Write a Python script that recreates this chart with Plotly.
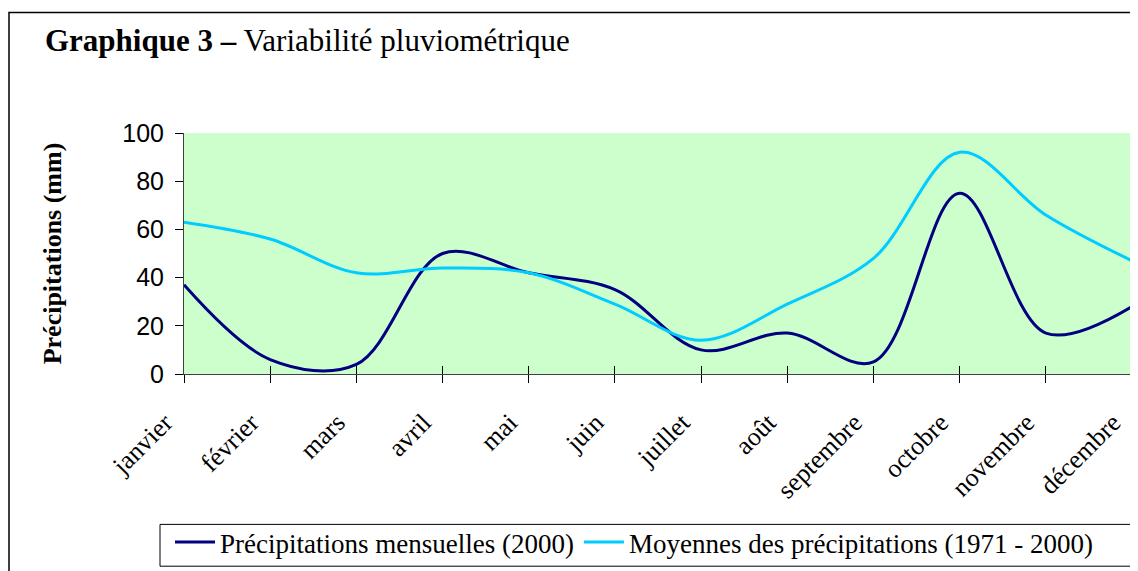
import plotly.graph_objects as go

mois = ["janvier", "février", "mars", "avril", "mai", "juin", "juillet",
        "août", "septembre", "octobre", "novembre", "décembre"]
precip_2000 = [37, 6, 4, 50, 42, 35, 10, 17, 5, 75, 17, 28]
moyennes_1971_2000 = [63, 56, 42, 44, 42, 29, 14, 29, 48, 92, 66, 47]

serif = "Liberation Serif, Times New Roman, serif"
sans = "Liberation Sans, Arial, sans-serif"

# page offset (browser body margin) is 8px; plot area on page: x 184-1132, y 133-375
def px(xp):
    return (xp - 184) / 948

def py(yp):
    return (375 - yp) / 242

fig = go.Figure()
fig.add_trace(go.Scatter(
    x=mois, y=precip_2000, mode="lines",
    name="Précipitations mensuelles (2000)",
    line=dict(color="#000080", width=3, shape="spline", smoothing=1.0),
))
fig.add_trace(go.Scatter(
    x=mois, y=moyennes_1971_2000, mode="lines",
    name="Moyennes des précipitations (1971 - 2000)",
    line=dict(color="#00CCFF", width=3, shape="spline", smoothing=1.0),
))
# invisible trace on an overlaying axis to draw inner tick marks
fig.add_trace(go.Scatter(x=mois, y=precip_2000, mode="lines", xaxis="x2",
                         line=dict(width=0), showlegend=False, hoverinfo="skip",
                         opacity=0))

fig.update_layout(
    width=1130, height=563,
    margin=dict(l=176, r=6, t=125, b=196),
    paper_bgcolor="white",
    plot_bgcolor="#CCFFCC",
    showlegend=True,
    xaxis=dict(
        type="category", range=[0, 11], automargin=False,
        showgrid=False, zeroline=False,
        showline=True, linecolor="#404040", linewidth=1,
        ticks="outside", ticklen=8, tickcolor="black", tickwidth=1,
        tickangle=-45, ticklabelshift=-19, ticklabelstandoff=14,
        tickfont=dict(family=serif, size=26, color="black"),
    ),
    xaxis2=dict(
        type="category", range=[0, 11], overlaying="x", side="bottom",
        automargin=False,
        showgrid=False, zeroline=False, showline=False,
        ticks="inside", ticklen=8, tickcolor="black", tickwidth=1,
        showticklabels=False,
    ),
    yaxis=dict(
        range=[0, 100], dtick=20, automargin=False,
        showgrid=False, zeroline=False,
        showline=True, linecolor="#404040", linewidth=1,
        ticks="outside", ticklen=8, tickcolor="black", tickwidth=1,
        ticklabelstandoff=6,
        tickfont=dict(family=sans, size=25, color="black"),
        title=dict(text="<b>Précipitations (mm)</b>",
                   font=dict(family=serif, size=26, color="black"),
                   standoff=53),
    ),
    legend=dict(
        orientation="h",
        x=px(170), y=py(518), xanchor="left", yanchor="top",
        bgcolor="rgba(0,0,0,0)", borderwidth=0,
        font=dict(family=serif, size=27, color="black"),
        itemwidth=40,
    ),
    annotations=[dict(
        text="<b>Graphique 3 –</b> Variabilité pluviométrique",
        xref="paper", yref="paper",
        x=px(43), y=py(40),
        xanchor="left", yanchor="middle", showarrow=False,
        font=dict(family=serif, size=31, color="black"),
    )],
    shapes=[
        dict(type="rect", xref="paper", yref="paper",
             x0=px(9), x1=px(1160), y0=py(600), y1=py(12),
             line=dict(color="black", width=1.5), fillcolor="rgba(0,0,0,0)",
             layer="below"),
        dict(type="rect", xref="paper", yref="paper",
             x0=px(160), x1=px(1132), y0=py(568), y1=py(526),
             line=dict(color="black", width=1), fillcolor="white",
             layer="below"),
    ],
)

fig.write_html("out.html")
